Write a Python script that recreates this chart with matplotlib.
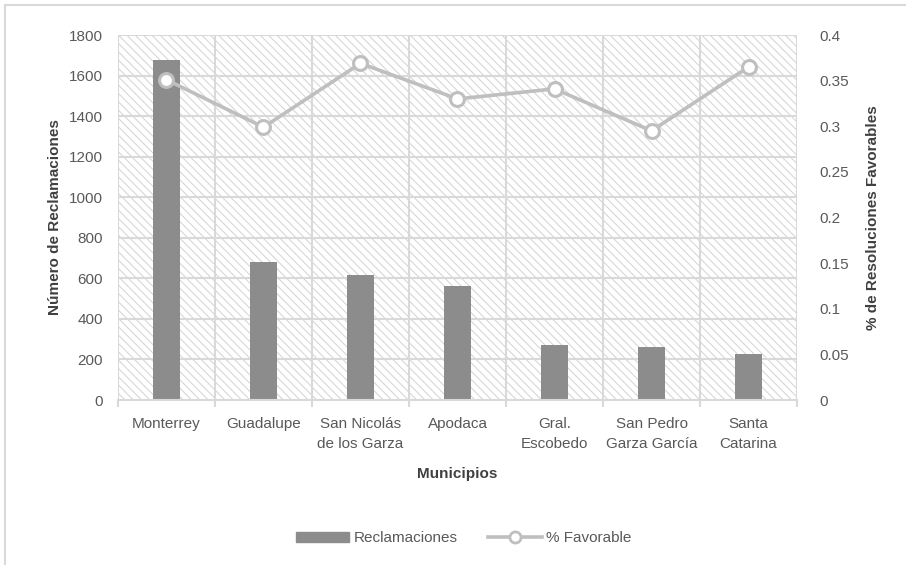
import matplotlib
matplotlib.use("Agg")
import matplotlib.pyplot as plt
from matplotlib.patches import Rectangle
from matplotlib.lines import Line2D
import numpy as np

municipios = ["Monterrey", "Guadalupe", "San Nicolás\nde los Garza", "Apodaca",
              "Gral.\nEscobedo", "San Pedro\nGarza García", "Santa\nCatarina"]
reclamaciones = [1677, 680, 616, 563, 271, 261, 227]
favorable = [0.351, 0.299, 0.369, 0.330, 0.341, 0.295, 0.365]
left_ticks = [0, 200, 400, 600, 800, 1000, 1200, 1400, 1600, 1800]
right_ticks = [0, 0.05, 0.1, 0.15, 0.2, 0.25, 0.3, 0.35, 0.4]
right_tick_labels = ["0", "0.05", "0.1", "0.15", "0.2", "0.25", "0.3", "0.35", "0.4"]

plt.rcParams['font.family'] = ['Liberation Sans', 'DejaVu Sans']

TXT = "#595959"
GRID = "#d9d9d9"
BAR = "#8c8c8c"
LINE = "#bfbfbf"

fig = plt.figure(figsize=(9.09, 5.65), dpi=100)
ax = fig.add_axes([0.1298, 0.292, 0.7470, 0.646])
x = np.arange(len(municipios))

# hatched plot background
plt.rcParams['hatch.linewidth'] = 0.7
bg = Rectangle((0, 0), 1, 1, transform=ax.transAxes, facecolor="white",
               edgecolor="#d2d2d2", hatch="\\\\\\\\", linewidth=0, zorder=0)
ax.add_patch(bg)
ax.set_facecolor("white")

ax.set_xlim(-0.5, len(municipios) - 0.5)
ax.set_ylim(0, 1800)
for yv in left_ticks[1:]:
    ax.axhline(yv, color=GRID, lw=1.5, zorder=1)
for xv in np.arange(-0.5, len(municipios), 1.0):
    ax.axvline(xv, color=GRID, lw=1.5, zorder=1)

ax.bar(x, reclamaciones, width=0.28, color=BAR, zorder=3, label="Reclamaciones")

for s in ["top", "left", "right"]:
    ax.spines[s].set_visible(False)
ax.spines["bottom"].set_color(GRID)
ax.spines["bottom"].set_linewidth(1.5)
ax.spines["bottom"].set_zorder(4)

ax.set_yticks(left_ticks)
ax.set_yticklabels([str(v) for v in left_ticks])
ax.tick_params(axis="y", length=0, pad=11, labelsize=11, labelcolor=TXT)
ax.set_xticks(np.arange(-0.5, len(municipios), 1.0), minor=False)
ax.set_xticklabels([])
ax.tick_params(axis="x", which="major", length=5, width=1.5, color=GRID)
ax.set_xticks(x, minor=True)
ax.set_xticklabels(municipios, minor=True, linespacing=1.55)
ax.tick_params(axis="x", which="minor", length=0, pad=12, labelsize=11, labelcolor=TXT)

ax.set_ylabel("Número de Reclamaciones", fontsize=11, fontweight="bold", color="#404040", labelpad=5)
ax.set_xlabel("Municipios", fontsize=11, fontweight="bold", color="#404040", labelpad=12)

ax2 = ax.twinx()
ax2.set_ylim(0, 0.4)
ax2.plot(x, favorable, color=LINE, lw=2.6, marker="o", markersize=10,
         markerfacecolor="white", markeredgecolor=LINE, markeredgewidth=2.2,
         zorder=5, label="% Favorable")
for s in ["top", "left", "right", "bottom"]:
    ax2.spines[s].set_visible(False)
ax2.set_yticks(right_ticks)
ax2.set_yticklabels(right_tick_labels)
ax2.tick_params(axis="y", length=0, pad=16, labelsize=11, labelcolor=TXT)
ax2.set_ylabel("% de Resoluciones Favorables", fontsize=11, fontweight="bold",
               color="#404040", labelpad=12)

handles = [Rectangle((0, 0), 1, 1, color=BAR),
           Line2D([], [], color=LINE, lw=2.6, marker="o", markersize=8,
                  markerfacecolor="white", markeredgecolor=LINE, markeredgewidth=2)]
fig.legend(handles, ["Reclamaciones", "% Favorable"], loc="center",
           bbox_to_anchor=(0.51, 0.047), ncol=2, frameon=False, fontsize=11,
           labelcolor=TXT, handlelength=3.5, columnspacing=2.0, handletextpad=0.3)

# outer frame
fig.add_artist(Line2D([0.0055, 0.996], [0.991, 0.991], transform=fig.transFigure,
                      color=GRID, lw=1.5))
fig.add_artist(Line2D([0.0055, 0.0055], [0.0, 0.991], transform=fig.transFigure,
                      color=GRID, lw=1.5))

fig.savefig("out.png", dpi=100)
